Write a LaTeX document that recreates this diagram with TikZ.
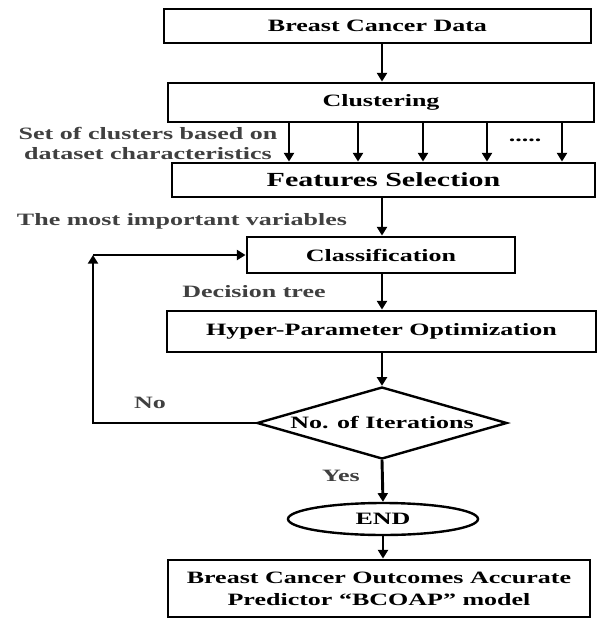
\documentclass[tikz,border=0pt]{standalone}
\usepackage{fontspec}
\setmainfont{Liberation Serif}[FakeStretch=1.5]
\usetikzlibrary{arrows.meta,shapes.geometric}
\begin{document}
\begin{tikzpicture}[x=0.75pt,y=-0.75pt,
  mainfont/.style={font=\fontsize{13}{16.5}\selectfont\bfseries},
  box/.style={draw, line width=2.2pt, rectangle, inner sep=0pt, mainfont, align=center},
  lbl/.style={text=black!75, font=\fontsize{13}{15}\selectfont\bfseries, align=center, inner sep=0pt},
  arr/.style={line width=2.2pt, -{Triangle[length=6.5pt,width=7.5pt]}},
  thinarr/.style={line width=1.8pt, -{Triangle[length=6.5pt,width=7.5pt]}}]
\useasboundingbox (0,0) rectangle (601,619);

\node[box, minimum width=320.25pt, minimum height=25.5pt] (b1) at (377.5,26) {Breast Cancer Data};
\node[box, minimum width=319.5pt, minimum height=29.25pt] (clu) at (381,102.5) {Clustering};
\node[box, minimum width=317.25pt, minimum height=25.5pt, font=\fontsize{15}{18}\selectfont\bfseries] (fs) at (383.5,180) {Features Selection};
\node[box, minimum width=201pt, minimum height=27pt] (cls) at (381,255) {Classification};
\node[box, minimum width=321.75pt, minimum height=30.75pt] (hyp) at (381.5,331.5) {Hyper-Parameter Optimization};
\node[diamond, draw, line width=1.8pt, inner sep=0pt, minimum width=187.5pt, minimum height=54pt, mainfont] (dia) at (382,423) {\makebox[0pt]{No. of Iterations}};
\node[ellipse, draw, line width=1.8pt, inner sep=0pt, minimum width=142.5pt, minimum height=24pt, mainfont] (end) at (383,519) {\makebox[0pt]{END}};
\node[box, minimum width=316.5pt, minimum height=42.75pt] (fin) at (379,588.5) {Breast Cancer Outcomes Accurate\\Predictor ``BCOAP'' model};

\coordinate (sp) at (382,0);
\draw[arr] (b1.south -| sp) -- (clu.north -| sp);
\foreach \x in {289,358,423,487,562} {
  \path (\x,0) coordinate (cx);
  \draw[arr] (clu.south -| cx) -- (fs.north -| cx);
}
\draw[arr] (fs.south -| sp) -- (cls.north -| sp);
\draw[arr] (cls.south -| sp) -- (hyp.north -| sp);
\draw[arr] (hyp.south -| sp) -- (dia.north);
\draw[arr] (dia.south) -- (end.north);
\draw[arr] (end.south) -- (fin.north -| end.south);

\coordinate (lb) at (93,423);
\coordinate (lt) at (93,255);
\draw[thinarr] (dia.west) -- (lb) -- (lt);
\draw[thinarr] (lt) -- (cls.west);

\node[lbl, text=black] (dots) at (525,140) {.....};
\node[lbl] (l1) at (148,143) {Set of clusters based on\\dataset characteristics};
\node[lbl] (l2) at (182,221) {The most important variables};
\node[lbl] (l3) at (254,292) {Decision tree};
\node[lbl] (l4) at (150,403) {No};
\node[lbl] (l5) at (341,476) {Yes};
\end{tikzpicture}
\end{document}
